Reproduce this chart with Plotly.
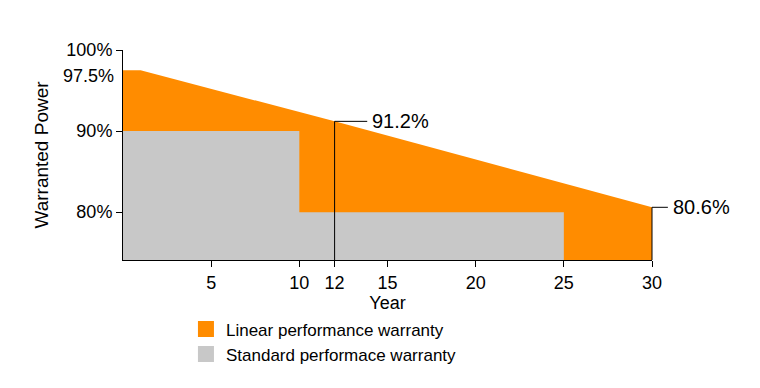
import plotly.graph_objects as go

# Data
linear_years = [0, 1, 12, 30]
linear_power = [97.5, 97.5, 91.2, 80.6]
standard_years = [0, 10, 25]
standard_power = [90, 80, 80]
x_ticks = [5, 10, 12, 15, 20, 25, 30]
y_ticks = [80, 90, 100]
y_tick_labels = ["80%", "90%", "100%"]
series_names = ["Linear performance warranty", "Standard performace warranty"]
ORANGE = "#FF8C00"
GRAY = "#C8C8C8"
FONT = "Liberation Sans, Arial, sans-serif"
Y_MIN = 74.1
X_MAX = 30

fig = go.Figure()
fig.add_trace(go.Scatter(x=linear_years, y=linear_power, mode="lines", line=dict(width=0, color=ORANGE),
                         fill="tozeroy", fillcolor=ORANGE, showlegend=False, hoverinfo="skip"))
fig.add_trace(go.Scatter(x=standard_years, y=standard_power, mode="lines", line=dict(width=0, color=GRAY, shape="hv"),
                         fill="tozeroy", fillcolor=GRAY, showlegend=False, hoverinfo="skip"))
# legend entries
for name, col in zip(series_names, [ORANGE, GRAY]):
    fig.add_trace(go.Scatter(x=[None], y=[None], mode="markers", name=name,
                             marker=dict(symbol="square", size=17, color=col)))

# annotation lines (x in paper fraction so they are not clipped)
lc = dict(color="black", width=1)
for yr, pw, ext in [(linear_years[2], linear_power[2], 1.85), (linear_years[3], linear_power[3], 0.9)]:
    fig.add_shape(type="line", xref="paper", x0=yr / X_MAX, x1=yr / X_MAX, y0=Y_MIN, y1=pw, line=lc)
    fig.add_shape(type="line", xref="paper", x0=yr / X_MAX, x1=(yr + ext) / X_MAX, y0=pw, y1=pw, line=lc)
    fig.add_annotation(xref="paper", x=(yr + ext) / X_MAX, y=pw, text=f"{pw}%", showarrow=False,
                       xanchor="left", yanchor="middle", xshift=3,
                       font=dict(size=20, color="black", family=FONT))

fig.add_annotation(xref="paper", x=0, y=96.8, text=f"{linear_power[0]}%", showarrow=False,
                   xanchor="right", yanchor="middle", xshift=-7, font=dict(size=18, color="black", family=FONT))

fig.update_layout(
    width=760, height=388,
    margin=dict(l=115, r=116, t=42, b=136, autoexpand=False),
    paper_bgcolor="white", plot_bgcolor="white",
    font=dict(family=FONT, size=18, color="black"),
    xaxis=dict(range=[0, X_MAX], tickvals=x_ticks, ticks="outside", ticklen=6, tickcolor="black",
               showline=True, linecolor="black", linewidth=1, showgrid=False, zeroline=False,
               title=dict(text="Year", font=dict(size=18), standoff=4)),
    yaxis=dict(range=[Y_MIN, 100], tickvals=y_ticks, ticktext=y_tick_labels, ticks="outside", ticklen=6,
               tickcolor="black", showline=True, linecolor="black", linewidth=1, showgrid=False, zeroline=False,
               title=dict(text="Warranted Power", font=dict(size=19), standoff=12)),
    legend=dict(orientation="v", x=0.119, xanchor="left", y=-0.245, yanchor="top",
                font=dict(size=17), tracegroupgap=0),
    showlegend=True,
)

fig.write_html("out.html")
